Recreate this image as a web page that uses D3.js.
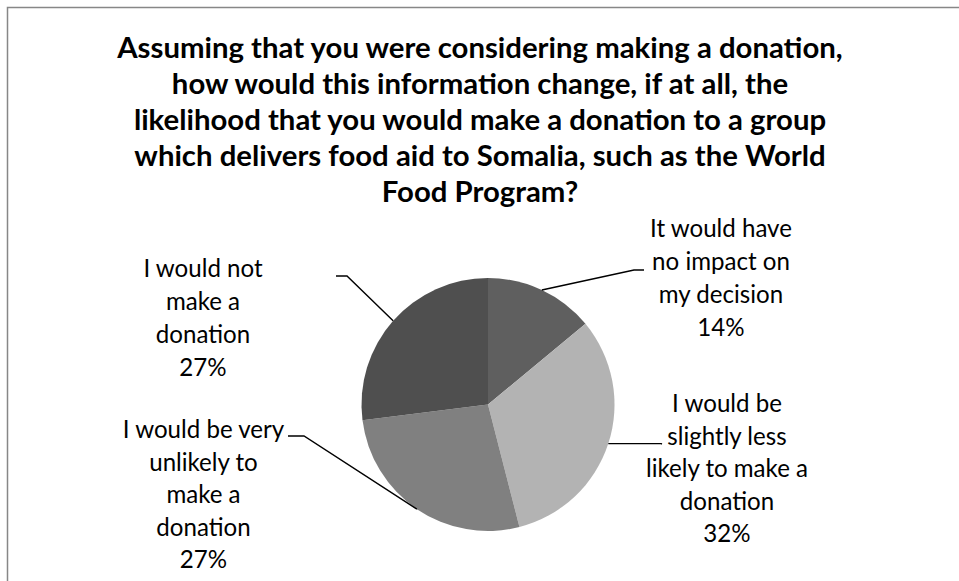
<!DOCTYPE html>
<html>
<head>
<meta charset="utf-8">
<script src="https://cdn.jsdelivr.net/npm/d3@7"></script>
<style>
  html, body { margin: 0; padding: 0; background: #fff; }
  svg { display: block; }
</style>
</head>
<body>
<svg id="chart" width="959" height="581"></svg>
<script>
// Survey answers, in the order the slices run clockwise from 12 o'clock
const categories = [
  "It would have no impact on my decision",
  "I would be slightly less likely to make a donation",
  "I would be very unlikely to make a donation",
  "I would not make a donation"
];
const values = [14, 32, 27, 27];
const valueLabels = ["14%", "32%", "27%", "27%"];
const labelLines = [
  ["It would have", "no impact on", "my decision"],
  ["I would be", "slightly less", "likely to make a", "donation"],
  ["I would be very", "unlikely to", "make a", "donation"],
  ["I would not", "make a", "donation"]
];
const sliceColors = ["#5f5f5f", "#b3b3b3", "#808080", "#4f4f4f"];
const titleLines = [
  "Assuming that you were considering making a donation,",
  "how would this information change, if at all, the",
  "likelihood that you would make a donation to a group",
  "which delivers food aid to Somalia, such as the World",
  "Food Program?"
];

const svg = d3.select("#chart");
const FONT = "Lato, 'Open Sans', 'Noto Sans', sans-serif";

// chart frame (only the top and left edges fall inside the view)
svg.append("rect")
  .attr("x", 7.5).attr("y", 7.5)
  .attr("width", 1200).attr("height", 1200)
  .attr("fill", "none")
  .attr("stroke", "#878787")
  .attr("stroke-width", 1.5);

// pick a font size so a sample string spans a given width
function fitSize(text, weight, targetWidth) {
  const probe = svg.append("text")
    .attr("font-family", FONT).attr("font-weight", weight)
    .attr("font-size", 100).text(text);
  const w = probe.node().getComputedTextLength();
  probe.remove();
  return 100 * targetWidth / w;
}

// title
const titleSize = fitSize(titleLines[0], "bold", 726);
const title = svg.append("text")
  .attr("text-anchor", "middle")
  .attr("font-family", FONT)
  .attr("font-weight", "bold")
  .attr("font-size", titleSize)
  .attr("fill", "#000");
title.selectAll("tspan")
  .data(titleLines)
  .join("tspan")
  .attr("x", 480)
  .attr("y", (d, i) => 58 + i * 36)
  .text(d => d);

// pie
const cx = 488, cy = 404.5, radius = 126.5;
const pie = d3.pie().sort(null).value(d => d)(values);
const arc = d3.arc().innerRadius(0).outerRadius(radius);
const g = svg.append("g").attr("transform", `translate(${cx},${cy})`);
g.selectAll("path")
  .data(pie)
  .join("path")
  .attr("d", arc)
  .attr("fill", (d, i) => sliceColors[i]);

// label placement: centre x, first baseline, line spacing, leader elbow points
const labelLayout = [
  { x: 721, y: 237, lh: 33, leader: [[644, 270], [634, 270]] },
  { x: 727, y: 412, lh: 32.5, leader: [[662, 444]] },
  { x: 203.5, y: 438, lh: 32.5, leader: [[288, 436], [304, 436]] },
  { x: 203, y: 277, lh: 33, leader: [[336, 276], [347, 276]] }
];

const labelSize = fitSize("I would be very", "normal", 161.5);

pie.forEach((d, i) => {
  const L = labelLayout[i];
  // leader from the slice's mid-angle on the rim to the label
  const mid = (d.startAngle + d.endAngle) / 2;
  const rim = [cx + radius * Math.sin(mid), cy - radius * Math.cos(mid)];
  let pts = L.leader.slice();
  if (pts.length === 1) pts = [pts[0], [pts[0][0] - 1, rim[1]]];
  const line = d3.line();
  svg.append("path")
    .attr("d", line([...pts, rim]))
    .attr("fill", "none")
    .attr("stroke", "#000")
    .attr("stroke-width", 1.4);

  const t = svg.append("text")
    .attr("text-anchor", "middle")
    .attr("font-family", FONT)
    .attr("font-size", labelSize)
    .attr("fill", "#000");
  const lines = [...labelLines[i], valueLabels[i]];
  t.selectAll("tspan")
    .data(lines)
    .join("tspan")
    .attr("x", L.x)
    .attr("y", (s, j) => L.y + j * L.lh)
    .text(s => s);
});
</script>
</body>
</html>
